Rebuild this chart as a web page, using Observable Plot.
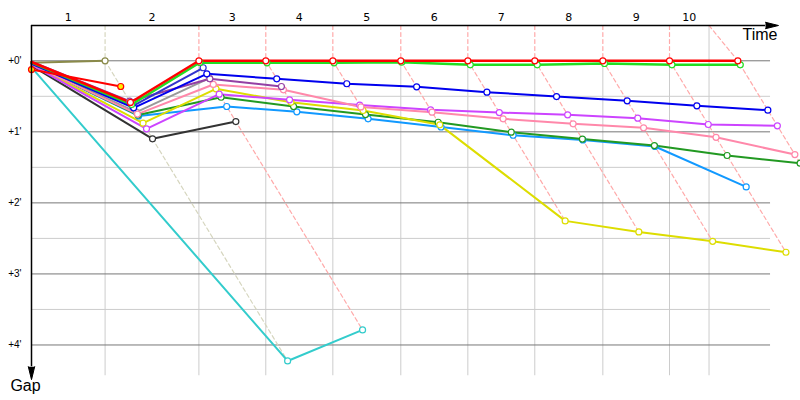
<!DOCTYPE html>
<html><head><meta charset="utf-8">
<script src="https://cdn.jsdelivr.net/npm/d3@7"></script>
<script src="https://cdn.jsdelivr.net/npm/@observablehq/plot@0.6"></script>
<style>body{margin:0;background:#fff}#chart{width:800px;height:400px}</style>
</head><body><div id="chart"></div>
<script>
// ---- data (time and gap in seconds) ----
const lapLabels = ["1","2","3","4","5","6","7","8","9","10"];
const leaderTimes = [0, 102.2, 232.5, 325.4, 418.5, 512.9, 606.0, 699.0, 793.5, 886.1, 981.0];
const gridTimes = [102.2, 232.5, 325.4, 418.5, 512.9, 606.0, 699.0, 793.5, 886.1, 941.0];
const gapTicks = [0, 60, 120, 180, 240];
const gapTickLabels = ["+0'", "+1'", "+2'", "+3'", "+4'"];
const halfGapTicks = [30, 90, 150, 210];

const driverNames  = ["olive","cyan","black","gray","sky","darkgreen","yellow","violet","pink","purple","navy","blue","green","red","retired"];
const driverColors = ["#8a8a4a","#33cccc","#333333","#999999","#1199ff","#229922","#dddd00","#cc44ff","#ff88aa","#9440a4","#3333cc","#0000ee","#22dd22","#ff0000","#ff0000"];
const driverFills  = ["white","white","white","white","white","white","white","white","white","white","white","white","white","white","#ffee00"];
const driverWidths = [2,2,2,2,2,2,2,2,2,2,2,2,2.5,2.5,2];
const lapLineColorByLeader = {olive: "#d6d6bf", red: "#ffaaaa"};

const gapsOlive     = [1.7, 0];
const gapsCyan      = [5.5, 253.5, 227.3];
const gapsBlack     = [4.0, 65.9, 51.3];
const gapsGray      = [2.5, 43.4, 14.7];
const gapsSky       = [3.0, 46.6, 38.6, 43.1, 49.0, 55.9, 62.9, 66.8, 72.4, 106.5];
const gapsDarkGreen = [2.5, 45.8, 30.8, 38.6, 45.4, 51.9, 60.3, 66.1, 71.6, 80.0, 86.5];
const gapsYellow    = [3.0, 52.7, 23.7, 35.0, 42.0, 54.1, 135.2, 144.5, 152.5, 161.7];
const gapsViolet    = [3.5, 57.5, 28.2, 33.0, 37.4, 41.4, 43.7, 45.6, 48.5, 53.8, 54.9];
const gapsPink      = [3.0, 45.0, 20.0, 24.5, 39.0, 43.4, 49.0, 53.2, 56.6, 64.6, 79.2];
const gapsPurple    = [0.8, 34.1, 15.2, 21.7];
const gapsNavy      = [2.0, 38.2, 5.9];
const gapsBlue      = [2.5, 39.7, 11.0, 15.2, 19.4, 22.0, 26.5, 30.2, 33.8, 38.0, 41.7];
const gapsGreen     = [1.5, 36.9, 1.4, 1.7, 1.7, 1.2, 3.4, 3.4, 2.3, 3.4, 3.4];
const gapsRed       = [1.0, 35.2, 0, 0, 0, 0, 0, 0, 0, 0, 0];
const gapsRetired   = [7.4, 21.7];
const driverGaps = [gapsOlive,gapsCyan,gapsBlack,gapsGray,gapsSky,gapsDarkGreen,gapsYellow,gapsViolet,gapsPink,gapsPurple,gapsNavy,gapsBlue,gapsGreen,gapsRed,gapsRetired];

// ---- derived tables ----
const yTop = -29.8, yBottom = 270, xMax = 1033.3;
const points = [];
driverNames.forEach((name, j) => {
  driverGaps[j].forEach((g, lap) => {
    points.push({driver: name, lap, gap: g, time: lap === 0 ? 0 : leaderTimes[lap] + g,
      color: driverColors[j], fill: driverFills[j]});
  });
});
const lapLines = [];
for (let k = 1; k < leaderTimes.length; k++) {
  const atLap = points.filter(p => p.lap === k);
  const leader = atLap.find(p => p.gap === 0);
  const maxGap = d3.max(atLap, p => p.gap);
  const color = lapLineColorByLeader[leader.driver];
  lapLines.push({lap: k, time: gridTimes[k-1], gap: yTop, color});
  lapLines.push({lap: k, time: leaderTimes[k], gap: 0, color});
  lapLines.push({lap: k, time: leaderTimes[k] + maxGap, gap: maxGap, color});
}
const vGrid = gridTimes.map(t => ({time: t, top: leaderTimes.includes(t) ? 0 : yTop}));
const lapLabelRows = lapLabels.map((l, i) => ({label: l, time: ((i === 0 ? 0 : gridTimes[i-1]) + gridTimes[i]) / 2}));
const tickRows = gapTickLabels.map((l, i) => ({label: l, gap: gapTicks[i]}));

const lineMarks = driverNames.map((name, j) =>
  Plot.line(points.filter(p => p.driver === name), {x: "time", y: "gap", stroke: driverColors[j], strokeWidth: driverWidths[j], strokeLinejoin: "round"}));

const chart = Plot.plot({
  width: 800, height: 400,
  marginLeft: 31, marginRight: 25, marginTop: 25, marginBottom: 20,
  x: {domain: [0, xMax], axis: null},
  y: {domain: [yTop, yBottom], reverse: true, axis: null},
  color: {type: "identity"},
  style: {background: "white", fontFamily: "DejaVu Sans", color: "black"},
  marks: [
    Plot.ruleY(halfGapTicks, {x1: 0, x2: 1026.4, stroke: "#cccccc"}),
    Plot.ruleX(vGrid, {x: "time", y1: "top", y2: 266, stroke: "#cccccc"}),
    Plot.ruleY(gapTicks, {x1: 0, x2: 1026.4, stroke: "#777777"}),
    Plot.line(lapLines, {x: "time", y: "gap", z: "lap", stroke: "color", strokeWidth: 1.2, strokeDasharray: "4,3"}),
    ...lineMarks,
    Plot.dot(points.filter(p => p.lap > 0 || p.driver === "retired"), {x: "time", y: "gap", r: 3, fill: "fill", stroke: "color", strokeWidth: 1.2}),
    // axes
    Plot.ruleY([yTop], {x1: 0, x2: 1019.4, stroke: "black", strokeWidth: 1.5}),
    Plot.ruleX([0], {y1: yTop, y2: 258.3, stroke: "black", strokeWidth: 1.5}),
    Plot.vector([{t: 1019.4, g: yTop, rot: 90}, {t: 0, g: 258.3, rot: 180}], {x: "t", y: "g", rotate: "rot", length: 13, r: 3.2, shape: "spike", anchor: "start", fill: "black", stroke: "black", strokeWidth: 1}),
    Plot.text(lapLabelRows, {x: "time", y: yTop, dy: -8, text: "label", fontSize: 11, fontFamily: "DejaVu Sans"}),
    Plot.text(tickRows, {x: 0, y: "gap", text: "label", dx: -10, textAnchor: "end", fontSize: 10, fontFamily: "Liberation Sans"}),
    Plot.text(["Time"], {x: 1036, y: -21.8, text: d => d, textAnchor: "end", fontSize: 16, fontFamily: "Liberation Sans"}),
    Plot.text(["Gap"], {x: -8.3, y: 274.4, text: d => d, fontSize: 16, fontFamily: "Liberation Sans"})
  ]
});
document.getElementById("chart").appendChild(chart);
</script>
</body></html>
